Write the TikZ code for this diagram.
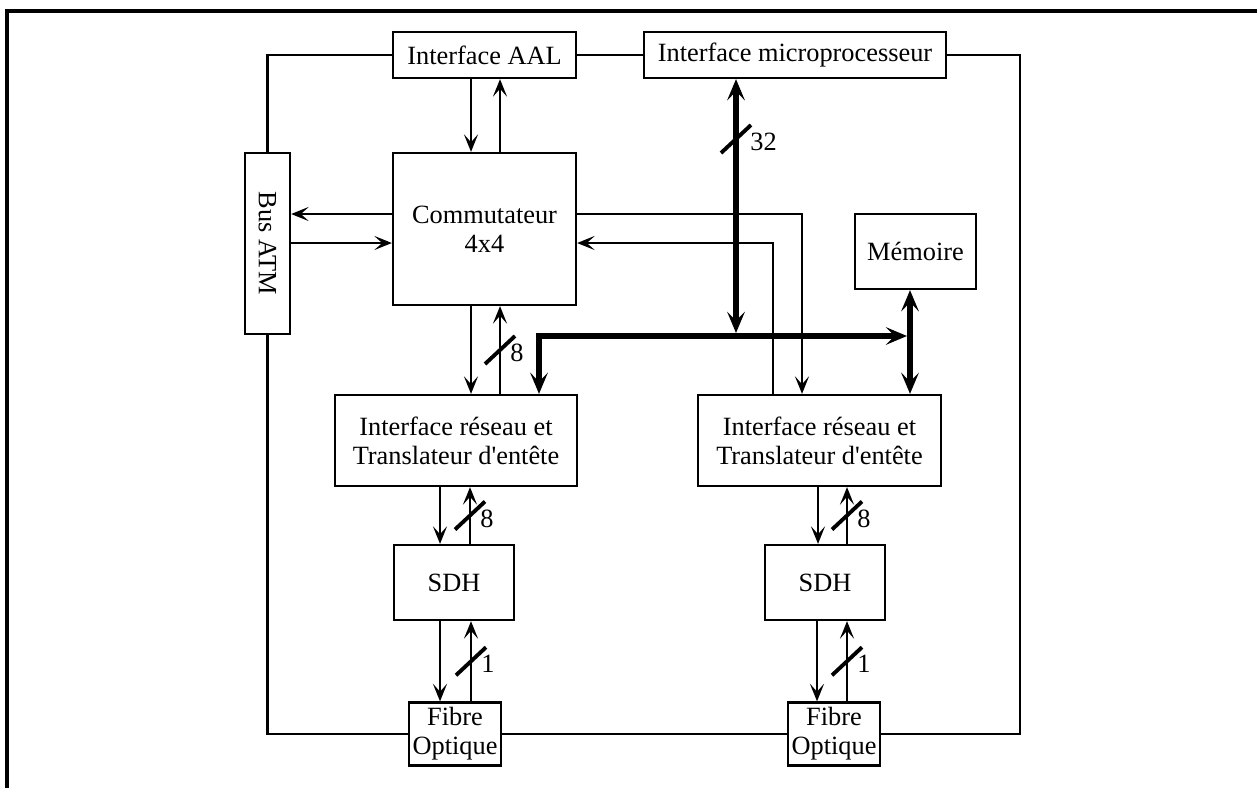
\documentclass[tikz,border=0pt]{standalone}
\usepackage{fontspec}
\setmainfont{Liberation Serif}
\usetikzlibrary{arrows.meta}

\tikzset{
  bloc/.style={draw, line width=1.3pt, inner sep=0pt, align=center,
    font=\fontsize{15}{16.5}\selectfont},
  fil/.style={line width=1.3pt},
  fleche/.style={fil, -{Stealth[length=10pt, width=8pt, inset=4.5pt]}},
  bus/.style={line width=3.2pt,
    {Stealth[length=12pt, width=10pt, inset=5pt]}-{Stealth[length=12pt, width=10pt, inset=5pt]}},
  barre/.style={line width=2.2pt},
  nb/.style={anchor=west, inner sep=0pt, font=\fontsize{15}{16}\selectfont},
}

\begin{document}
\begin{tikzpicture}[x=0.02cm, y=-0.02cm]
  \useasboundingbox (0,0) rectangle (1257,788);
  % cadre
  \draw[line width=2pt] (7,788) -- (7,11) -- (1257,11);

  % blocs
  \node[bloc, minimum width=3.66cm, minimum height=0.92cm] (aal) at (484.5,55) {Interface AAL};
  \node[bloc, minimum width=6.04cm, minimum height=0.92cm] (micro) at (795,55) {Interface microprocesseur};
  \node[bloc, minimum width=3.66cm, minimum height=3.04cm] (comm) at (484.5,229) {Commutateur\\4x4};
  \node[bloc, minimum width=0.9cm, minimum height=3.62cm] (busatm) at (267.5,243.5) {\rotatebox{-90}{Bus ATM}};
  \node[bloc, minimum width=2.42cm, minimum height=1.5cm] (mem) at (915.5,251.5) {Mémoire};
  \node[bloc, minimum width=4.84cm, minimum height=1.82cm] (res1) at (456,440.5) {Interface réseau et\\Translateur d\textquotesingle entête};
  \node[bloc, minimum width=4.86cm, minimum height=1.82cm] (res2) at (819.5,440.5) {Interface réseau et\\Translateur d\textquotesingle entête};
  \node[bloc, minimum width=2.4cm, minimum height=1.5cm] (sdh1) at (454,582.5) {SDH};
  \node[bloc, minimum width=2.4cm, minimum height=1.5cm] (sdh2) at (825,582.5) {SDH};
  \node[bloc, minimum width=1.84cm, minimum height=1.26cm] (fib1) at (455,734) {Fibre\\Optique};
  \node[bloc, minimum width=1.84cm, minimum height=1.26cm] (fib2) at (834,734) {Fibre\\Optique};

  % boucle
  \coordinate (coin) at (1020,734);
  \draw[fil] (aal.west) -| (busatm.north);
  \draw[fil] (busatm.south) |- (fib1.west);
  \draw[fil] (fib1.east) -- (fib2.west);
  \draw[fil] (micro.east) -| (coin) -- (fib2.east);
  \draw[fil] (aal.east) -- (micro.west);

  % commutateur
  \draw[fleche] (471,0 |- aal.south) -- (471,0 |- comm.north);
  \draw[fleche] (500,0 |- comm.north) -- (500,0 |- aal.south);
  \draw[fleche] (comm.west |- 0,214) -- (busatm.east |- 0,214);
  \draw[fleche] (busatm.east |- 0,243) -- (comm.west |- 0,243);
  \draw[fleche] (comm.east |- 0,214) -| (802,0 |- res2.north);
  \draw[fleche] (773,0 |- res2.north) |- (comm.east |- 0,243);
  \draw[fleche] (471,0 |- comm.south) -- (471,0 |- res1.north);
  \draw[fleche] (500,0 |- res1.north) -- coordinate (s1) (500,0 |- comm.south);

  % interfaces reseau, SDH, fibres
  \draw[fleche] (440,0 |- res1.south) -- (440,0 |- sdh1.north);
  \draw[fleche] (470,0 |- sdh1.north) -- coordinate (s2) (470,0 |- res1.south);
  \draw[fleche] (818,0 |- res2.south) -- (818,0 |- sdh2.north);
  \draw[fleche] (847,0 |- sdh2.north) -- coordinate (s3) (847,0 |- res2.south);
  \draw[fleche] (440,0 |- sdh1.south) -- (440,0 |- fib1.north);
  \draw[fleche] (471,0 |- fib1.north) -- coordinate (s4) (471,0 |- sdh1.south);
  \draw[fleche] (817,0 |- sdh2.south) -- (817,0 |- fib2.north);
  \draw[fleche] (847,0 |- fib2.north) -- coordinate (s5) (847,0 |- sdh2.south);

  % bus de donnees
  \coordinate (croix) at (736,333);
  \coordinate (s0) at (736,139);
  \coordinate (bout) at (907,336);
  \coordinate (angle) at (539,336);
  \draw[bus] (736,0 |- micro.south) -- (croix);
  \draw[bus] (910,0 |- mem.south) -- (910,0 |- res2.north);
  \draw[bus] (bout) -- (angle) -- (angle |- res1.north);

  % largeurs
  \foreach \s/\n/\d in {s0/32/14, s1/8/10, s2/8/10, s3/8/10, s4/1/10, s5/1/10} {
    \draw[barre] ([shift={(-15,14)}]\s) -- ([shift={(15,-14)}]\s);
    \node[nb] (n\s) at ([shift={(\d,3)}]\s) {\n};
  }
\end{tikzpicture}
\end{document}
